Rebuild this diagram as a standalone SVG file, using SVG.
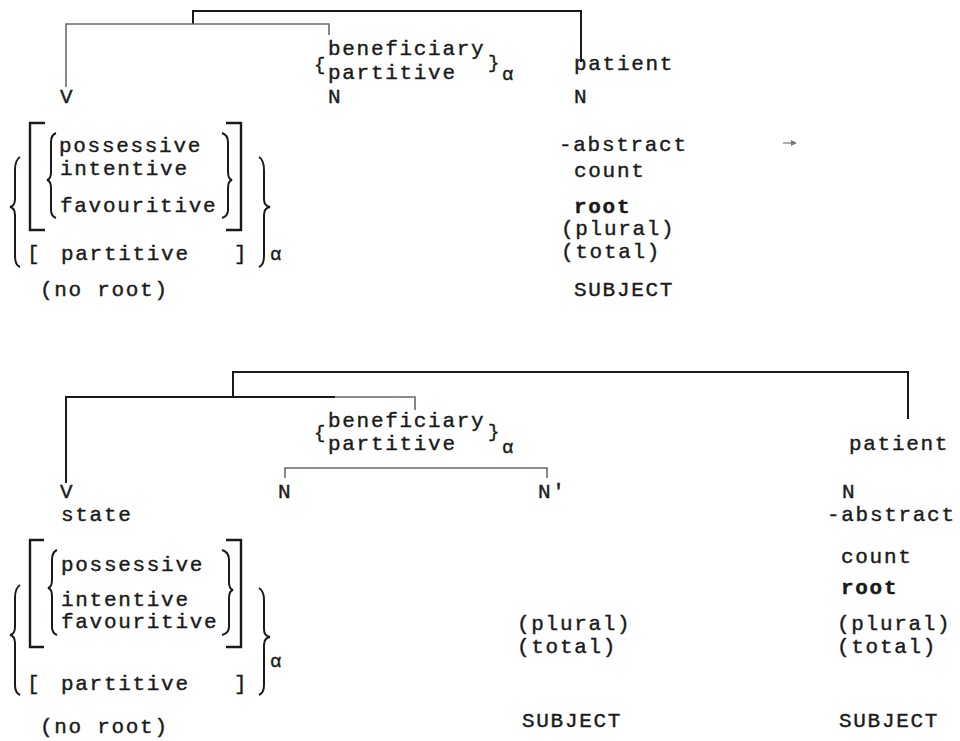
<svg xmlns="http://www.w3.org/2000/svg" width="960" height="741" viewBox="0 0 960 741">
<style>
text{font-family:"Liberation Mono","DejaVu Sans Mono",monospace;font-size:21px;letter-spacing:1.7px;fill:#1a1a1a;stroke:#1a1a1a;stroke-width:0.4}
.b{font-weight:bold}
.s{font-size:19px;letter-spacing:0}
.dark{fill:none;stroke:#1a1a1a;stroke-width:2}
.gray{fill:none;stroke:#6a6a6a;stroke-width:1.6}
.br{fill:none;stroke:#1a1a1a;stroke-width:2.4}
.cb{fill:none;stroke:#1a1a1a;stroke-width:2}
</style>
<rect width="960" height="741" fill="#fff"/>
<g id="connectors">
<path class="dark" d="M193 24V11H581V62"/>
<path class="gray" d="M66 87V24H329V35"/>
<path class="dark" d="M233 397V372H908V419"/>
<path class="dark" d="M66 483V397H335"/>
<path class="gray" d="M335 397H415V410"/>
<path class="gray" d="M285 478V468H547V478"/>
<path d="M783 143H794" stroke="#777" stroke-width="1.2"/>
<path d="M797 143L791 140V146Z" fill="#777"/>
</g>
<g id="top-V">
<text x="60" y="103">V</text>
<path class="br" d="M45 123H30V230H45"/>
<path class="br" d="M226 123H241V230H226"/>
<path class="cb" d="M56 133Q51 135 51 142V172Q51 179 47 180Q51 181 51 188V210Q51 216 56 218"/>
<path class="cb" d="M222 133Q228 135 228 142V172Q228 179 232 180Q228 181 228 188V210Q228 216 222 218"/>
<path class="cb" d="M20 157Q15 160 15 170V199Q15 206 10 207Q15 208 15 215V256Q15 265 20 267"/>
<path class="cb" d="M259 157Q264 160 264 170V199Q264 206 270 207Q264 208 264 215V256Q264 265 259 267"/>
<text x="59" y="152">possessive</text>
<text x="60" y="175">intentive</text>
<text x="60" y="212">favouritive</text>
<text x="27" y="260">[</text>
<text x="61" y="260">partitive</text>
<text x="234" y="260">]</text>
<text class="s" x="270" y="260">α</text>
<text x="40" y="296">(no root)</text>
</g>
<g id="top-N">
<text class="s" x="314" y="70">{</text>
<text x="328" y="55">beneficiary</text>
<text x="328" y="79">partitive</text>
<text class="s" x="488" y="68">}</text>
<text class="s" x="502" y="80">α</text>
<text x="328" y="103">N</text>
</g>
<g id="top-patient">
<text x="574" y="70">patient</text>
<text x="574" y="103">N</text>
<text x="559" y="151">-abstract</text>
<text x="574" y="177">count</text>
<text class="b" x="574" y="213">root</text>
<text x="561" y="235">(plural)</text>
<text x="561" y="258">(total)</text>
<text x="574" y="296">SUBJECT</text>
</g>
<g id="bottom-V">
<text x="60" y="498">V</text>
<text x="61" y="521">state</text>
<path class="br" d="M44 540H30V647H44"/>
<path class="br" d="M226 540H241V647H226"/>
<path class="cb" d="M57 550Q52 552 52 560V580Q52 587 48 588Q52 589 52 596V627Q52 633 57 635"/>
<path class="cb" d="M222 550Q229 552 229 560V582Q229 589 233 590Q229 591 229 598V627Q229 633 222 635"/>
<path class="cb" d="M20 585Q15 588 15 598V627Q15 634 10 635Q15 636 15 643V685Q15 693 20 695"/>
<path class="cb" d="M259 588Q264 591 264 600V629Q264 636 270 637Q264 638 264 645V685Q264 693 259 695"/>
<text x="61" y="571">possessive</text>
<text x="61" y="606">intentive</text>
<text x="61" y="628">favouritive</text>
<text x="27" y="690">[</text>
<text x="61" y="690">partitive</text>
<text x="234" y="690">]</text>
<text class="s" x="270" y="667">α</text>
<text x="40" y="733">(no root)</text>
</g>
<g id="bottom-N-group">
<text class="s" x="314" y="438">{</text>
<text x="328" y="427">beneficiary</text>
<text x="328" y="450">partitive</text>
<text class="s" x="488" y="437">}</text>
<text class="s" x="502" y="453">α</text>
</g>
<g id="bottom-N">
<text x="278" y="498">N</text>
</g>
<g id="bottom-N-prime">
<text x="538" y="498">N'</text>
<text x="517" y="630">(plural)</text>
<text x="517" y="653">(total)</text>
<text x="522" y="727">SUBJECT</text>
</g>
<g id="bottom-patient">
<text x="849" y="450">patient</text>
<text x="842" y="498">N</text>
<text x="827" y="521">-abstract</text>
<text x="841" y="563">count</text>
<text class="b" x="841" y="594">root</text>
<text x="837" y="630">(plural)</text>
<text x="837" y="653">(total)</text>
<text x="839" y="727">SUBJECT</text>
</g>
</svg>
